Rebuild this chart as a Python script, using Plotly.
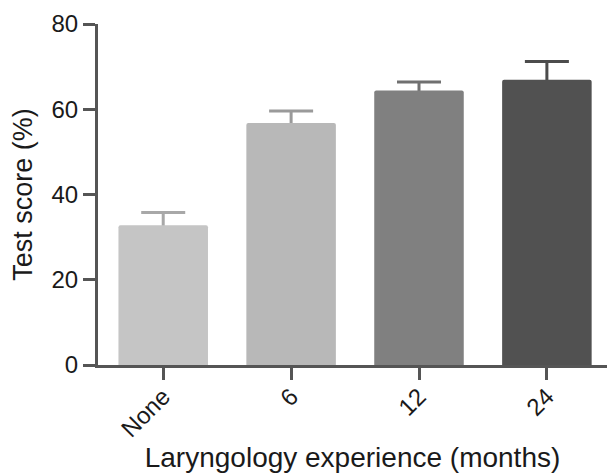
import plotly.graph_objects as go

# Group labels and mean test scores with error (SEM)
categories = ["None", "6", "12", "24"]
means = [32.8, 56.8, 64.4, 66.9]
errors = [3.0, 2.8, 2.0, 4.3]
y_ticks = [0, 20, 40, 60, 80]

bar_colors = ["#c5c5c5", "#b8b8b8", "#808080", "#515151"]
err_colors = ["#a8a8a8", "#9a9a9a", "#707070", "#4c4c4c"]

fig = go.Figure()
for cat, m, e, bc, ec in zip(categories, means, errors, bar_colors, err_colors):
    # symmetric error bar on an invisible bar; the lower half is hidden
    # behind the solid bar drawn next
    fig.add_trace(go.Bar(
        x=[cat], y=[m], width=0.70,
        marker=dict(color="rgba(0,0,0,0)", line=dict(width=0)),
        error_y=dict(type="data", array=[e], color=ec, thickness=3, width=22),
        showlegend=False, hoverinfo="skip",
    ))
    fig.add_trace(go.Bar(
        x=[cat], y=[m], width=0.70,
        marker=dict(color=bc, line=dict(width=0), cornerradius=2),
        showlegend=False,
    ))

font_family = "Liberation Sans, Arial, sans-serif"
axis_color = "#555555"

fig.update_layout(
    width=607, height=476,
    margin=dict(l=98, r=0, t=24, b=111),
    paper_bgcolor="white", plot_bgcolor="white",
    font=dict(family=font_family, size=24, color="#1a1a1a"),
    barmode="overlay",
)
fig.update_xaxes(
    categoryorder="array", categoryarray=categories,
    range=[-0.51, 3.47],
    showline=True, linecolor=axis_color, linewidth=3,
    ticks="outside", ticklen=12, tickwidth=3, tickcolor=axis_color,
    tickangle=-45, tickfont=dict(size=24), ticklabelstandoff=-7,
    showgrid=False, zeroline=False,
    title=dict(text="Laryngology experience (months)", font=dict(size=28), standoff=0),
)
fig.update_yaxes(
    range=[0, 80], tickvals=y_ticks,
    showline=True, linecolor=axis_color, linewidth=3,
    ticks="outside", ticklen=12, tickwidth=3, tickcolor=axis_color,
    tickfont=dict(size=24),
    showgrid=False, zeroline=False,
    title=dict(text="Test score (%)", font=dict(size=27), standoff=12),
)

fig.write_html("out.html")
